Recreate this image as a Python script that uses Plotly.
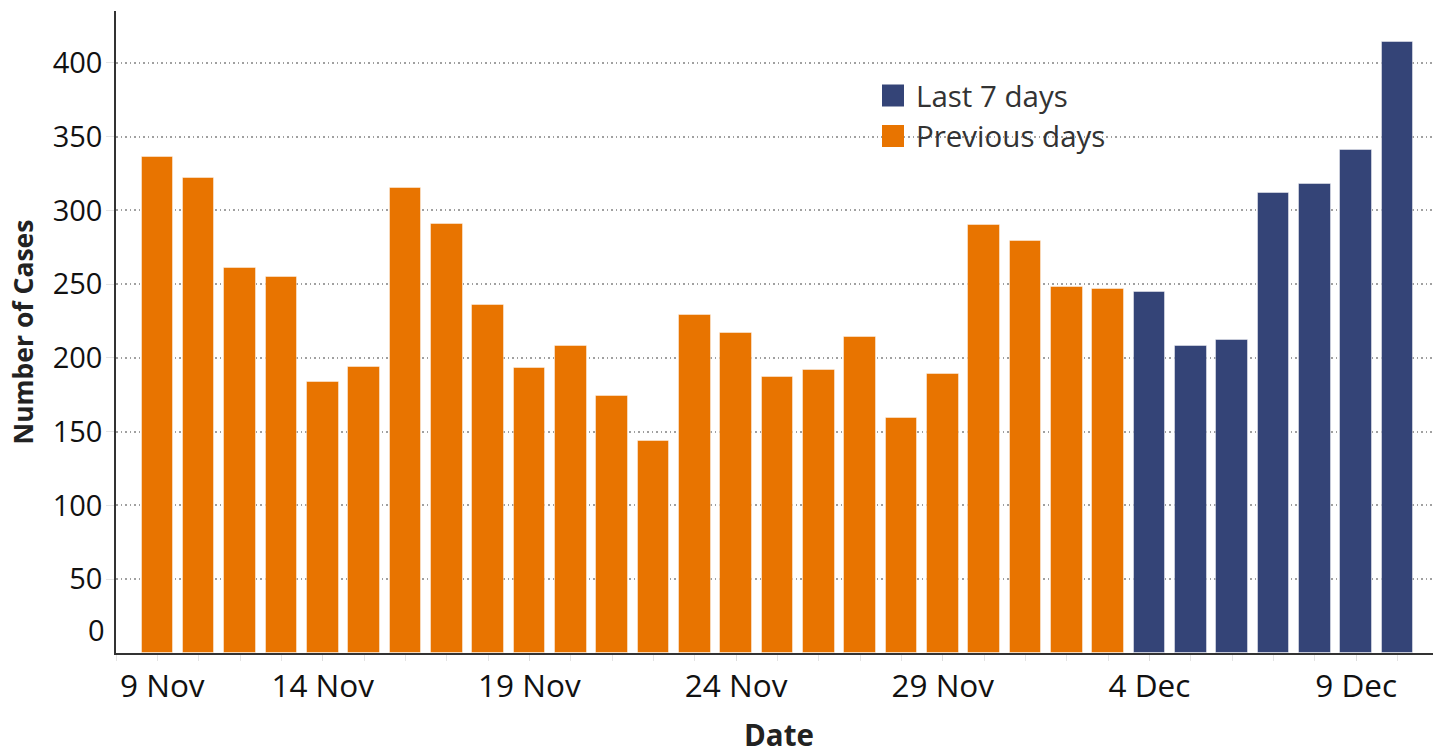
import plotly.graph_objects as go
import pandas as pd

# ---- data ----
prev_dates = pd.date_range("2020-11-10", "2020-12-03", freq="D")
prev_cases = [336, 322, 261, 255, 184, 194, 315, 291, 236, 193, 208, 174,
              144, 229, 217, 187, 192, 214, 159, 189, 290, 279, 248, 247]
last_dates = pd.date_range("2020-12-04", "2020-12-10", freq="D")
last_cases = [245, 208, 212, 312, 318, 341, 414]
tick_dates = pd.to_datetime(["2020-11-14", "2020-11-19", "2020-11-24",
                             "2020-11-29", "2020-12-04", "2020-12-09"])
y_ticks = [50, 100, 150, 200, 250, 300, 350, 400]
legend_names = ["Last 7 days", "Previous days"]

ORANGE = "#E87400"
BLUE = "#344477"
FONT = "Open Sans"

W, H = 1433, 755
ML, MR, MT, MB = 116, 0, 11, 102
PW, PH = W - ML - MR, H - MT - MB


def px_x(px):
    return (px - ML) / PW


def px_y(py):
    return (H - MB - py) / PH


fig = go.Figure()
bar_width = 0.765 * 86400000
fig.add_trace(go.Bar(x=prev_dates, y=prev_cases, marker_color=ORANGE,
                     marker_line=dict(color="rgba(255,255,255,0.45)", width=1),
                     width=bar_width, showlegend=False, name=legend_names[1]))
fig.add_trace(go.Bar(x=last_dates, y=last_cases, marker_color=BLUE,
                     marker_line=dict(color="rgba(255,255,255,0.45)", width=1),
                     width=bar_width, showlegend=False, name=legend_names[0]))

x_start = pd.Timestamp("2020-11-09")
x_end = x_start + pd.Timedelta(days=31.86)

# legend drawn as shapes + text
shapes = []
annotations = []
for i, (name, col) in enumerate(zip(legend_names, [BLUE, ORANGE])):
    cy = 95.5 + 40.5 * i
    shapes.append(dict(type="rect", xref="paper", yref="paper",
                       x0=px_x(882), x1=px_x(904), y0=px_y(cy + 11), y1=px_y(cy - 11),
                       fillcolor=col, line=dict(width=0)))
    annotations.append(dict(text=name, xref="paper", yref="paper",
                            x=px_x(914), y=px_y(cy), xanchor="left", yanchor="middle",
                            showarrow=False,
                            font=dict(size=29.5, family=FONT, color="#333333")))

annotations += [
    dict(text="0", xref="paper", yref="y", x=0, y=15.6, xanchor="right",
         yanchor="middle", xshift=-9, showarrow=False,
         font=dict(size=29, family=FONT, color="#111111")),
    dict(text="9 Nov", xref="x", yref="paper", x=x_start, y=0, xanchor="left",
         yanchor="middle", xshift=2, yshift=-31, showarrow=False,
         font=dict(size=31.5, family=FONT, color="#111111")),
    dict(text="<b>Date</b>", xref="paper", yref="paper", x=px_x(779), y=px_y(735),
         xanchor="center", yanchor="middle", showarrow=False,
         font=dict(size=29.5, family=FONT, color="#222222")),
]

fig.update_layout(
    width=W, height=H,
    margin=dict(l=ML, r=MR, t=MT, b=MB),
    plot_bgcolor="white", paper_bgcolor="white",
    font=dict(family=FONT, color="#111111"),
    bargap=0,
    showlegend=False,
    xaxis=dict(type="date", range=[x_start, x_end], automargin=False,
               tickvals=tick_dates, tickformat="%-d %b",
               tickfont=dict(size=31.5, family=FONT, color="#111111"),
               ticks="outside", ticklen=6, tickcolor="#dddddd",
               ticklabelstandoff=-2,
               minor=dict(dtick=86400000, ticks="outside", ticklen=6,
                          tickcolor="#e4e4e4", showgrid=False),
               showline=True, linecolor="#333333", linewidth=1.5,
               showgrid=False, zeroline=False),
    yaxis=dict(range=[0, 435.2], tickvals=y_ticks, automargin=False,
               tickfont=dict(size=29, family=FONT, color="#111111"),
               ticks="outside", ticklen=8, tickcolor="#e4e4e4",
               ticklabelstandoff=-2,
               showline=True, linecolor="#333333", linewidth=1.5,
               showgrid=True, gridcolor="#a0a0a0", griddash="1.5px,3px", gridwidth=1.5,
               zeroline=False,
               title=dict(text="<b>Number of Cases</b>", font=dict(size=26.5, family=FONT, color="#222222"),
                          standoff=11)),
    shapes=shapes,
    annotations=annotations,
)

fig.write_html("out.html", config={"displayModeBar": False},
               post_script="document.body.style.margin='0';document.body.style.overflow='hidden';")
